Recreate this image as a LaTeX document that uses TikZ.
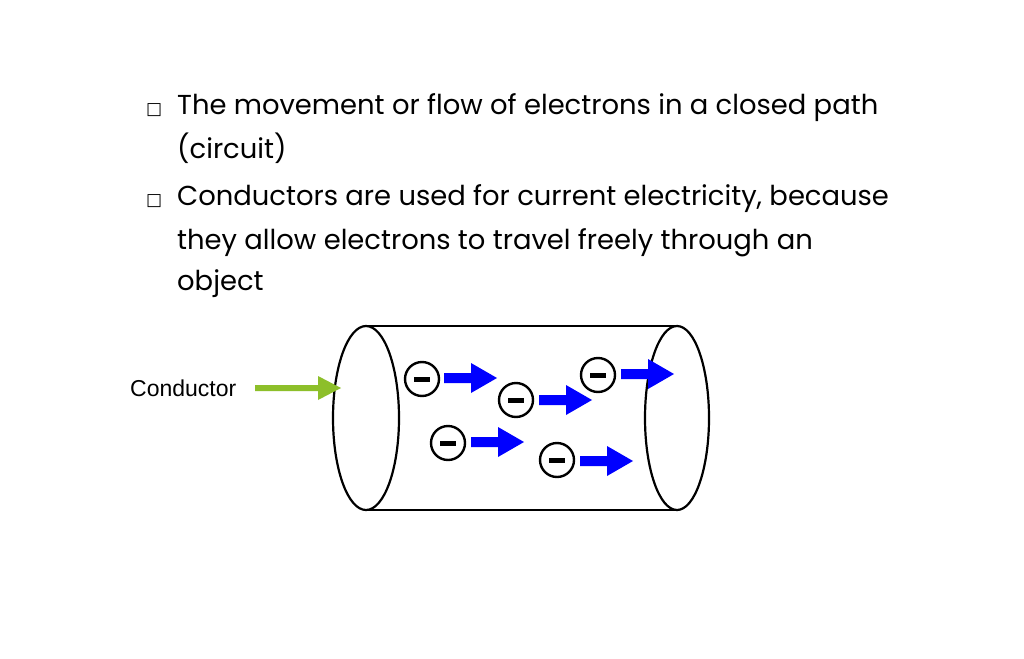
\documentclass[tikz,border=0pt]{standalone}
\usepackage{fontspec}
\setmainfont{Poppins}
\newfontfamily\djfont{DejaVu Sans}
\newfontfamily\arfont{Liberation Sans}
\definecolor{arrgreen}{HTML}{8DBF2A}
\begin{document}
\begin{tikzpicture}[x=1pt,y=-1pt,
  txt/.style={anchor=base west,inner sep=0pt,font=\fontsize{27.4}{30}\selectfont},
  bul/.style={anchor=base west,inner sep=0pt,font=\djfont\fontsize{17}{18}\selectfont},
  elec/.style={circle,draw,line width=2.4pt,minimum size=34pt,inner sep=0pt},
  flow/.style={fill=blue}]
\useasboundingbox (0,0) rectangle (1024,658);
\fill[white] (0,0) rectangle (1024,658);
\node[bul] (b1) at (146,114) {□};
\node[txt] (t1) at (177,114) {The movement or flow of electrons in a closed path};
\node[txt] (t2) at (177,158) {(circuit)};
\node[bul] (b2) at (146,205) {□};
\node[txt] (t3) at (177,205) {Conductors are used for current electricity, because};
\node[txt] (t4) at (177,249) {they allow electrons to travel freely through an};
\node[txt] (t5) at (177,290) {object};
% cylinder
\draw[line width=2.2pt] (366,326) -- (677,326);
\draw[line width=2.2pt] (366,510) -- (677,510);
\draw[line width=2.2pt,fill=white] (366,418) ellipse [x radius=33,y radius=92];
\draw[line width=2.2pt] (677,418) ellipse [x radius=32,y radius=92];
% electrons
\foreach \n/\x/\y/\ax/\ay in {e1/422/379/444/378, e2/516/400/539/400, e3/598/375/621/374, e4/448/443/471/442, e5/557/460/580/461}{
  \node[elec] (\n) at (\x,\y) {};
  \fill (\x-8,\y-2.5) rectangle (\x+8,\y+2.5);
  \fill[flow] (\ax,\ay-5) -- (\ax+27,\ay-5) -- (\ax+27,\ay-15) -- (\ax+53,\ay) -- (\ax+27,\ay+15) -- (\ax+27,\ay+5) -- (\ax,\ay+5) -- cycle;
}
% label
\node[anchor=base west,inner sep=0pt,font=\arfont\fontsize{23}{26}\selectfont] (lab) at (130,396) {Conductor};
\coordinate (tip) at (341,388);
\fill[arrgreen] (255,385) -- (318,385) -- (318,376) -- (341,388) -- (318,400) -- (318,391) -- (255,391) -- cycle;
\end{tikzpicture}
\end{document}
